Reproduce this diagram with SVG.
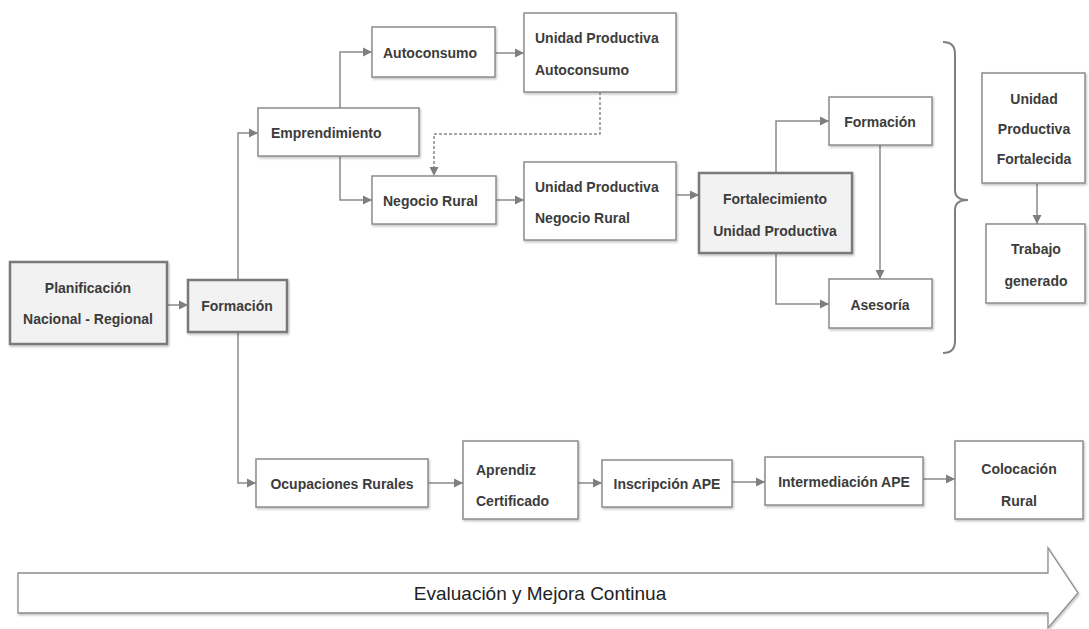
<svg xmlns="http://www.w3.org/2000/svg" width="1089" height="629" viewBox="0 0 1089 629">
<defs>
<marker id="ah" markerUnits="userSpaceOnUse" markerWidth="10" markerHeight="10" refX="9" refY="5" orient="auto">
<path d="M0,0.5 L9,5 L0,9.5 z" fill="#7f7f7f"/>
</marker>
<filter id="sh" x="-10%" y="-10%" width="120%" height="130%">
<feDropShadow dx="1" dy="1.5" stdDeviation="1" flood-color="#000" flood-opacity="0.25"/>
</filter>
</defs>
<style>
.b{fill:#fff;stroke:#8c8c8c;stroke-width:1.5;filter:url(#sh)}
.h{fill:#f2f2f2;stroke:#7a7a7a;stroke-width:2.5;filter:url(#sh)}
text{font-family:"Liberation Sans",Arial,sans-serif;font-size:14px;fill:#3c3c3c;font-weight:bold}
.c{text-anchor:middle}
.cn path{fill:none;stroke:#8a8a8a;stroke-width:1.5;marker-end:url(#ah)}
.big{font-weight:normal;font-size:19px;fill:#222}
</style>
<rect width="1089" height="629" fill="#fff"/>
<g class="cn" id="connectors">
<path d="M167,305 H188"/>
<path d="M238,280 V133 H258"/>
<path d="M238,332 V483 H256"/>
<path d="M340,108 V52 H372"/>
<path d="M340,156 V200 H372"/>
<path d="M495,53 H524"/>
<path d="M600,92 V134 H434 V176" stroke-dasharray="3,2"/>
<path d="M496,200 H524"/>
<path d="M676,195 H699"/>
<path d="M776,173 V121 H829"/>
<path d="M776,253 V304 H829"/>
<path d="M880,145 V279"/>
<path d="M1037,183 V224"/>
<path d="M428,483 H463"/>
<path d="M578,483 H602"/>
<path d="M732,482 H765"/>
<path d="M923,479 H955"/>
</g>
<g id="planificacion"><rect class="h" x="10" y="262" width="157" height="82"/><text class="c" x="88" y="293">Planificación</text><text class="c" x="88" y="324">Nacional - Regional</text></g>
<g id="formacion1"><rect class="h" x="188" y="280" width="99" height="52"/><text class="c" x="237" y="311">Formación</text></g>
<g id="emprendimiento"><rect class="b" x="258" y="108" width="161" height="48"/><text x="271" y="138">Emprendimiento</text></g>
<g id="autoconsumo"><rect class="b" x="372" y="27" width="123" height="50"/><text x="383" y="58">Autoconsumo</text></g>
<g id="upa"><rect class="b" x="524" y="13" width="152" height="79"/><text x="535" y="43">Unidad Productiva</text><text x="535" y="75">Autoconsumo</text></g>
<g id="negocio"><rect class="b" x="372" y="176" width="124" height="48"/><text x="383" y="206">Negocio Rural</text></g>
<g id="upnr"><rect class="b" x="524" y="162" width="152" height="78"/><text x="535" y="192">Unidad Productiva</text><text x="535" y="223">Negocio Rural</text></g>
<g id="fortalecimiento"><rect class="h" x="699" y="173" width="153" height="80"/><text class="c" x="775" y="204">Fortalecimiento</text><text class="c" x="775" y="236">Unidad Productiva</text></g>
<g id="formacion2"><rect class="b" x="829" y="97" width="103" height="48"/><text class="c" x="880" y="127">Formación</text></g>
<g id="asesoria"><rect class="b" x="829" y="279" width="103" height="49"/><text class="c" x="880" y="310">Asesoría</text></g>
<g id="brace"><path d="M943,42 Q955,42 955,54 V190 Q955,200 968,200 Q955,200 955,210 V341 Q955,353 943,353" fill="none" stroke="#7f7f7f" stroke-width="2"/></g>
<g id="upf"><rect class="b" x="982" y="73" width="103" height="110"/><text class="c" x="1034" y="104">Unidad</text><text class="c" x="1034" y="134">Productiva</text><text class="c" x="1034" y="164">Fortalecida</text></g>
<g id="trabajo"><rect class="b" x="986" y="224" width="99" height="79"/><text class="c" x="1036" y="254">Trabajo</text><text class="c" x="1036" y="286">generado</text></g>
<g id="ocupaciones"><rect class="b" x="256" y="459" width="172" height="48"/><text class="c" x="342" y="489">Ocupaciones Rurales</text></g>
<g id="aprendiz"><rect class="b" x="463" y="441" width="115" height="78"/><text x="476" y="475">Aprendiz</text><text x="476" y="506">Certificado</text></g>
<g id="inscripcion"><rect class="b" x="602" y="460" width="130" height="47"/><text class="c" x="667" y="489">Inscripción APE</text></g>
<g id="intermediacion"><rect class="b" x="765" y="457" width="158" height="48"/><text class="c" x="844" y="487">Intermediación APE</text></g>
<g id="colocacion"><rect class="b" x="955" y="441" width="128" height="78"/><text class="c" x="1019" y="474">Colocación</text><text class="c" x="1019" y="506">Rural</text></g>
<g id="evaluacion"><path d="M18,573 H1048 V548 L1078,593 L1048,628 V613 H18 Z" fill="#fff" stroke="#8c8c8c" stroke-width="1.3" filter="url(#sh)"/><text class="c big" x="540" y="600">Evaluación y Mejora Continua</text></g>
</svg>
